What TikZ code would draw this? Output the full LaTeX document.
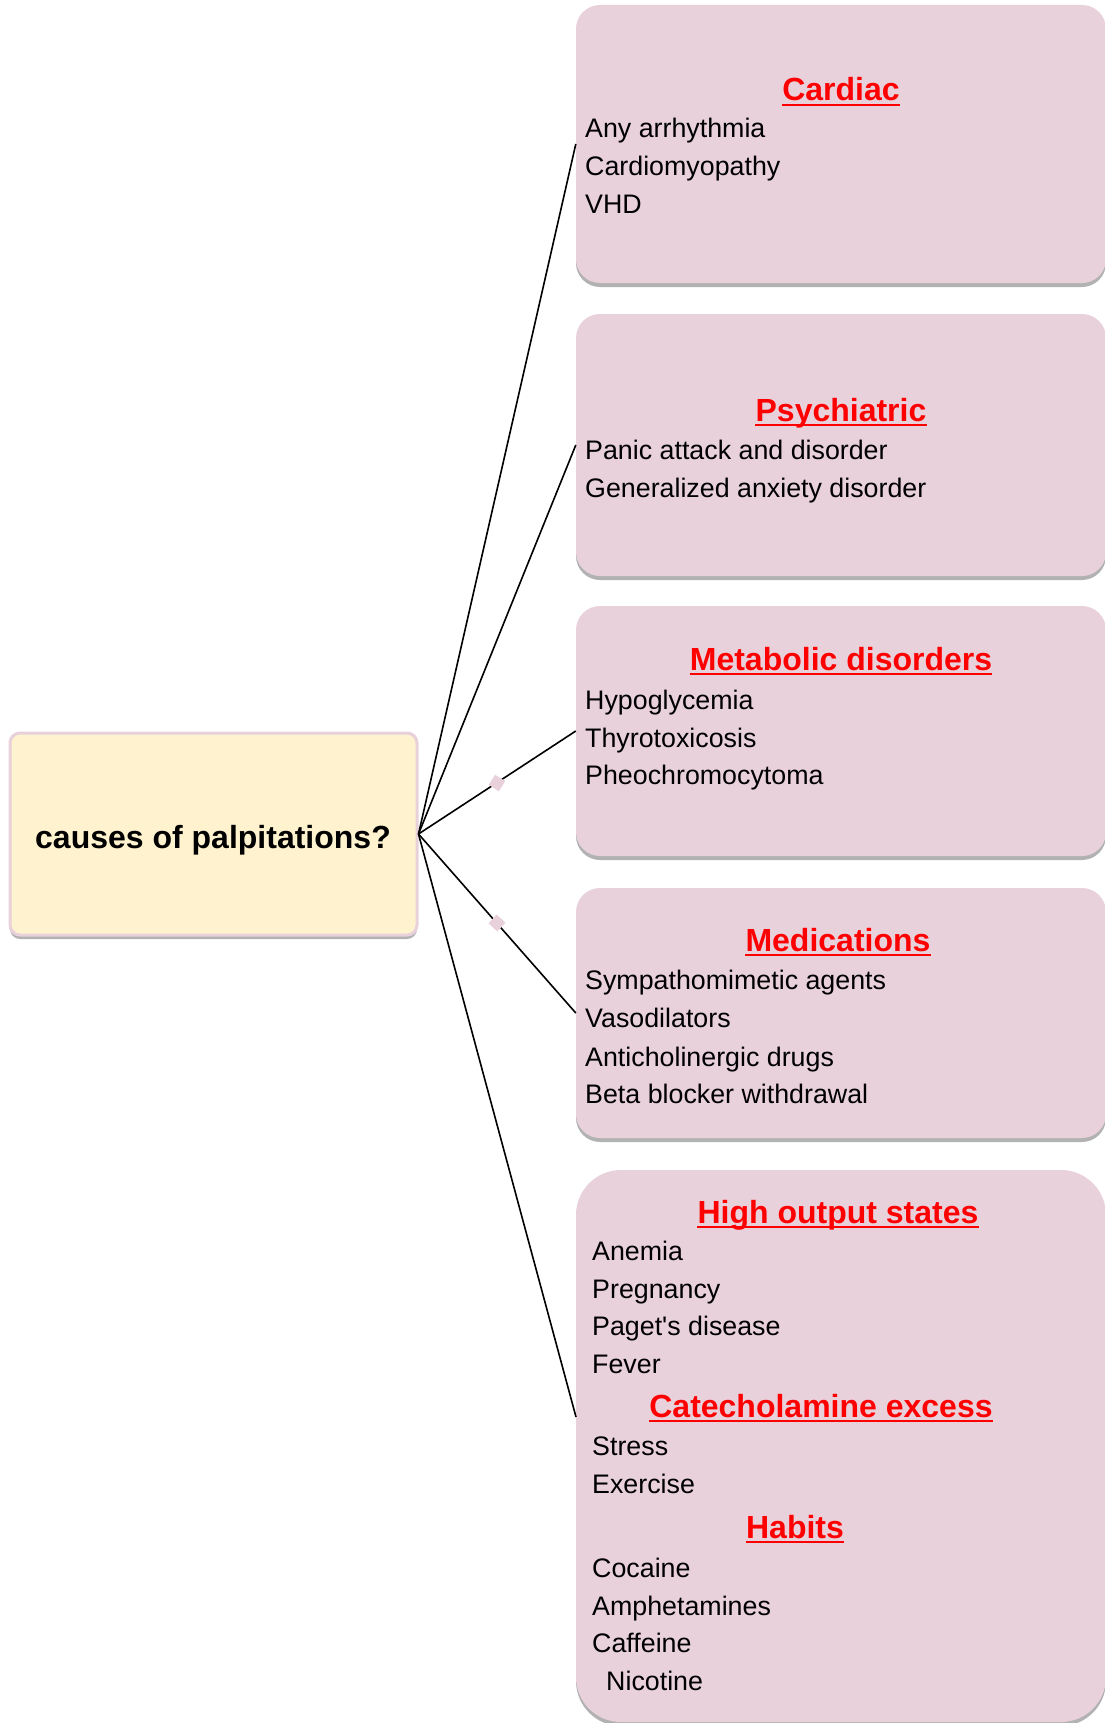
\documentclass[tikz,border=0pt]{standalone}
\usepackage{fontspec}
\setmainfont{Liberation Sans}
\usepackage{xcolor}
\usetikzlibrary{shadows}
\definecolor{boxpink}{RGB}{233,209,220}
\definecolor{rootfill}{RGB}{255,242,206}
\definecolor{headred}{RGB}{255,0,0}
\tikzset{
	causebox/.style={fill=boxpink, rounded corners=24pt, inner sep=0pt, minimum width=530pt,
		drop shadow={shadow xshift=0pt, shadow yshift=-4pt, opacity=0.3, fill=black}},
	head/.style={font=\bfseries\fontsize{32}{38}\selectfont, text=headred, anchor=base, inner sep=0pt},
	item/.style={font=\fontsize{26.8}{32}\selectfont, anchor=base west, inner sep=0pt},
	uline/.style={headred, line width=2.6pt},
	spoke/.style={line width=1.6pt}
}

\begin{document}
\begin{tikzpicture}[x=1pt,y=-1pt]
			\useasboundingbox (0,0) rectangle (1104,1723);
			\node[draw=boxpink, line width=3pt, fill=rootfill, rounded corners=10pt, inner sep=0pt,
				minimum width=407pt, minimum height=202pt,
				drop shadow={shadow xshift=0pt, shadow yshift=-4pt, opacity=0.3, fill=black}] (root) at (213.5,834) {};
			\node[font=\bfseries\fontsize{32}{38}\selectfont, anchor=base, inner sep=0pt] (rootlabel) at (213,848) {causes of palpitations?};
			
			\node[causebox, minimum height=278pt] (cardiac) at (841,144) {};
			\node[causebox, minimum height=262pt] (psych) at (841,445) {};
			\node[causebox, minimum height=250pt] (metab) at (841,731) {};
			\node[causebox, minimum height=250pt] (meds) at (841,1013) {};
			\node[causebox, minimum height=552pt, rounded corners=45pt] (other) at (841,1446) {};
			\coordinate (hook) at (576,1417);
			
			\foreach \x/\y in
			{cardiac/cardiac, psych/psych, metab/metab, meds/meds, other/hook}{
				\draw[spoke] (root.east) -- (\y.west);
			}
			
			% the two little marks on the middle spokes
			\fill[boxpink, rotate around={-32:(497,783)}] (491,777) rectangle (503,789);
			\fill[boxpink, rotate around={47:(497,923)}] (491,917) rectangle (503,929);
			
			\foreach \n/\x/\y/\t in
			{hA/841/101/Cardiac, hB/841/421/Psychiatric, hC/841/670/Metabolic disorders,
				hD/838/951/Medications, hE/838/1223/High output states,
				hF/821/1417/Catecholamine excess, hG/795/1538/Habits}{
				\node[head] (\n) at (\x,\y) {\t};
				\draw[uline] ([yshift=-4pt]\n.base west) -- ([yshift=-4pt]\n.base east);
			}
			
			\foreach \n/\x/\y/\t in
			{a1/585/138/Any arrhythmia, a2/585/176/Cardiomyopathy, a3/585/213/VHD,
				b1/585/459/Panic attack and disorder, b2/585/497/Generalized anxiety disorder,
				c1/585/709/Hypoglycemia, c2/585/747/Thyrotoxicosis, c3/585/784/Pheochromocytoma,
				d1/585/989/Sympathomimetic agents, d2/585/1027/Vasodilators,
				d3/585/1066/Anticholinergic drugs, d4/585/1103/Beta blocker withdrawal,
				e1/592/1260/Anemia, e2/592/1298/Pregnancy, e3/592/1335/Paget\textquotesingle s disease,
				e4/592/1373/Fever, f1/592/1455/Stress, f2/592/1493/Exercise,
				g1/592/1577/Cocaine, g2/592/1615/Amphetamines, g3/592/1652/Caffeine,
				g4/606/1690/Nicotine}{
				\node[item] (\n) at (\x,\y) {\t};
			}
		\end{tikzpicture}
\end{document}
